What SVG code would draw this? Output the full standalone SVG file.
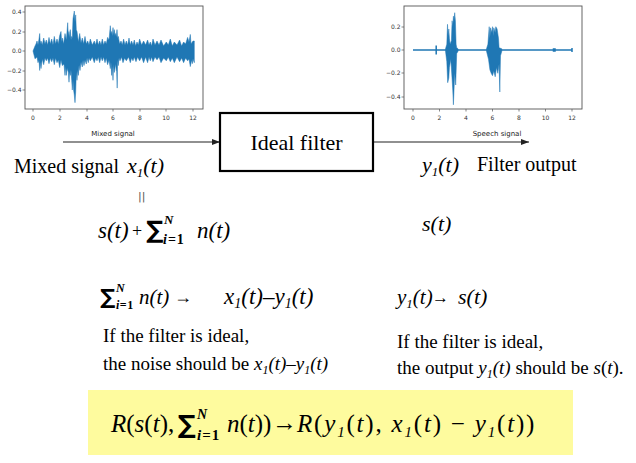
<svg xmlns="http://www.w3.org/2000/svg" width="636" height="463" viewBox="0 0 636 463">
<style>
.ser{font-family:"Liberation Serif","Times New Roman",serif;fill:#000}
.it{font-style:italic}
.b{font-weight:bold}
.sum{font-family:"DejaVu Sans","Liberation Sans",sans-serif;font-weight:bold;fill:#000}
.tick{font-family:"DejaVu Sans","Liberation Sans",sans-serif;font-size:6px;fill:#333}
.cap{font-family:"DejaVu Sans","Liberation Sans",sans-serif;font-size:7px;fill:#222;text-anchor:middle}
.frame{fill:none;stroke:#555;stroke-width:0.9}
.tk{stroke:#555;stroke-width:0.7}
.sig{fill:#1f77b4;stroke:#1f77b4;stroke-width:0.5;stroke-linejoin:round}
.sigl{fill:none;stroke:#1f77b4;stroke-width:1.5}
.conn{stroke:#222;stroke-width:1.2;fill:none}
</style>
<defs>
<marker id="ah" viewBox="0 0 8 6" refX="8" refY="3" markerWidth="8" markerHeight="6" markerUnits="userSpaceOnUse" orient="auto">
<path d="M0,0 L8,3 L0,6 z" fill="#222"/>
</marker>
</defs>
<rect width="636" height="463" fill="#fff"/>

<g id="plot-mixed">
<rect class="frame" x="25" y="6" width="178" height="103"/>
<path class="tk" d="M22.5,12H25M22.5,32H25M22.5,51H25M22.5,71H25M22.5,90H25M33,109V111.5M60,109V111.5M87,109V111.5M113,109V111.5M140,109V111.5M166,109V111.5M193,109V111.5"/>
<g class="tick" text-anchor="end">
<text x="21.5" y="14">0.4</text><text x="21.5" y="34">0.2</text><text x="21.5" y="53">0.0</text><text x="21.5" y="73">−0.2</text><text x="21.5" y="92">−0.4</text>
</g>
<g class="tick" text-anchor="middle">
<text x="33" y="119.5">0</text><text x="60" y="119.5">2</text><text x="87" y="119.5">4</text><text x="113" y="119.5">6</text><text x="140" y="119.5">8</text><text x="166" y="119.5">10</text><text x="193" y="119.5">12</text>
</g>
<polygon class="sig" points="33,51 35,46 36,44 37,41 38,45 39,39 39.7,33.5 40.3,44 41,41 42.3,45 43.7,38 45,44 46.3,40 47.6,45 49,37.4 50.3,44 51.7,39 53,45 54.3,36.4 55.6,44 57,39 58.3,44 59.7,35.4 61,31.5 61.6,42 62.3,38 63.6,44 65,33.5 66.4,40 67.7,22.7 68.3,36 69,31.5 69.6,38 70.3,29.6 71,40 71.7,36.4 72.3,38 73,18.8 74.3,11 75,22 75.7,14.9 76.3,30 77,31.5 78.4,42 79.7,33.5 81,43 82.3,38 83.6,44 85,36.4 86.3,44 87.7,41 89,45 90.3,39 92.3,45 94.3,41 95.6,45 97,39 98.3,45 99.7,41 101,45 102.3,39 103.6,45 105,41 106.3,44 107.6,37.4 109,40 110.3,25.7 111,34 111.6,31.5 112.3,36 113,27.6 113.6,35 114.3,29.6 115,36 115.6,33.5 116.3,37 117,29.6 117.6,38 118.3,36.4 119.6,44 121,41 122.3,45 123.6,39 125,45 126.3,41 127.6,45 129,38 130.3,45 131.6,41 133,45 134.3,40 135.6,46 137,42 138.3,45 139.6,39 141.6,45 143.6,41 145.6,45 147.6,40 149,45 150.3,42 151.6,46 153,39 155,45 157,41 159,45 161,40 163.6,46 166.3,42 168.3,45 170.3,39 172.3,46 174.3,42 177,45 179.6,40 181.6,46 183.6,42 185.6,44 187.6,37.4 189,42 190.3,34.4 191,44 191.6,43 193,41 194.3,41 194.3,62.7 193,58.8 192.3,63.7 191.6,60 190.3,66.6 189,59 187.6,60.8 185.6,58 183.6,62.7 181.6,58 179.6,61.7 177,57 174.3,62.7 172.3,58 170.3,61.7 168.3,57 166.3,60.8 163.6,58 161,62.7 159,57 157,59.8 155,57 153,61.7 151.6,57 150.3,60.8 149,57 147.6,62.7 145.6,57 143.6,62.7 141.6,57 139.6,60.8 137.6,57 136,61.7 134.3,57 133,60.8 131.6,58 130.3,62.7 128.6,57 126.3,60.8 124.6,58 123,62.7 121.5,57 120,60.8 119,58 118.3,65.6 117.6,60 117.2,88.1 116.6,70 116.3,70.5 115.6,64 114.3,72.5 113.6,64 113,80.3 112.3,66 111.6,75.4 111,62 110.3,68.6 109,60 107.6,64.7 106.3,58 105,62.7 103.6,57 102.3,60.8 101,57 99.7,62.7 98.3,57 97,60.8 95.6,58 94.3,62.7 92.3,57 90.3,60.8 89,58 88.3,62.7 87,58 86.3,64 85,60 84,65.6 83,60 82.3,67 81,62 80,70.5 79,65 78.4,75.4 77.6,70 77,80.3 76.3,72 75.7,92 75,102.7 74.3,95 73.6,90 73,80 72.3,90 71.7,80.3 71,70 70.3,75.4 69.6,72 69,82.2 68.3,72 67.7,70.5 67,68 66.3,75.4 65.6,66 65,75.4 64,64 62.3,65.6 61,60 59.7,67.6 58.3,60 57,62.7 55.6,58 54.3,64.7 53,58 51.7,61.7 50.3,58 49,63.7 47.6,58 46.3,60.8 45,58 43.7,64.7 42.3,59 41,68.6 40,62 39.7,70.5 39,60 38,62.7 37,57 35,58.8"/>
<text class="cap" x="113" y="136">Mixed signal</text>
</g>

<g id="plot-speech">
<rect class="frame" x="404" y="6" width="178" height="103"/>
<path class="tk" d="M401.5,27H404M401.5,50H404M401.5,73H404M401.5,97H404M413,109V111.5M439.5,109V111.5M466,109V111.5M492.5,109V111.5M519,109V111.5M545.5,109V111.5M572,109V111.5"/>
<g class="tick" text-anchor="end">
<text x="400.5" y="29">0.2</text><text x="400.5" y="52">0.0</text><text x="400.5" y="75">−0.2</text><text x="400.5" y="99">−0.4</text>
</g>
<g class="tick" text-anchor="middle">
<text x="413" y="119.5">0</text><text x="439.5" y="119.5">2</text><text x="466" y="119.5">4</text><text x="492.5" y="119.5">6</text><text x="519" y="119.5">8</text><text x="545.5" y="119.5">10</text><text x="572" y="119.5">12</text>
</g>
<path class="sigl" d="M413,50H572M436.2,45.5V54.5M553.5,48.3V51.7M555,48.3V51.7M572,48V52"/>
<polygon class="sig" points="445.5,48.8 446.8,44.2 447.5,24.3 448.1,36 448.8,29 449.4,38.3 450.1,44.2 451.4,40.7 452.1,20.8 452.8,26.7 453.4,16.2 454.1,19.7 454.7,12.7 455.4,20.8 456.1,44.2 456.7,47.7 458.1,48.8 458.1,51.2 456.7,53.5 455.7,85 454.7,73.3 453.4,104.8 452.8,90.8 452.1,79.2 450.8,59.3 449.4,67.5 448.8,78 447.7,82.7 446.8,61.7 445.5,51.2"/>
<polygon class="sig" points="486.5,48.8 487.9,44.2 489.2,26.7 489.9,38.3 490.5,27.8 491.8,32.5 492.5,26.7 493.2,36 493.8,27.8 495.2,32.5 495.8,26.7 497.1,29 498.5,38.3 499.1,47.7 501.8,48.8 501.8,51.2 500.5,55.8 499.8,92 499.1,64 497.8,73.3 496.5,67.5 495.2,76.8 493.8,71 492.5,75.7 491.2,73.3 489.9,69.8 488.5,59.3 486.5,51.2"/>
<text class="cap" x="497" y="136">Speech signal</text>
</g>

<g id="connectors">
<line class="conn" x1="63" y1="142" x2="220" y2="142" marker-end="url(#ah)"/>
<line class="conn" x1="373" y1="142" x2="529" y2="142" marker-end="url(#ah)"/>
</g>

<g id="node-filter">
<rect x="220" y="113" width="153" height="58" fill="#fff" stroke="#000" stroke-width="2.2"/>
<text class="ser" x="296.5" y="150" font-size="22" text-anchor="middle">Ideal filter</text>
</g>

<g id="input-label">
<text class="ser" x="14" y="173" font-size="20">Mixed signal</text>
<text class="ser it" x="127" y="173" font-size="22">x<tspan font-size="13" dy="4">1</tspan><tspan dy="-4">(t)</tspan></text>
<text x="138" y="200" font-family="DejaVu Sans,sans-serif" font-size="11" fill="#555">||</text>
<text class="ser it" x="98" y="238" font-size="23">s(t)</text>
<text class="ser" x="132" y="237" font-size="18">+</text>
<text class="sum" x="146" y="238" font-size="24">∑</text>
<text class="ser b it" x="164" y="224" font-size="13">N</text>
<text class="ser b" x="163" y="244" font-size="14" letter-spacing="1"><tspan class="it">i</tspan>=1</text>
<text class="ser it" x="197" y="238" font-size="23">n(t)</text>
</g>

<g id="output-label">
<text class="ser it" x="422" y="172" font-size="22">y<tspan font-size="13" dy="4">1</tspan><tspan dy="-4">(t)</tspan></text>
<text class="ser" x="477" y="171" font-size="20">Filter output</text>
<text class="ser it" x="422" y="231" font-size="22">s(t)</text>
</g>

<g id="noise-note">
<text class="sum" x="100" y="304" font-size="21">∑</text>
<text class="ser b it" x="116" y="292" font-size="12">N</text>
<text class="ser b" x="116" y="309" font-size="12" letter-spacing="0.5"><tspan class="it">i</tspan>=1</text>
<text class="ser it" x="139" y="304" font-size="21">n(t)</text>
<text class="ser" x="174" y="303" font-size="18">→</text>
<text class="ser it" x="224" y="304" font-size="23">x<tspan font-size="14" dy="4">1</tspan><tspan dy="-4">(t)–y</tspan><tspan font-size="14" dy="4">1</tspan><tspan dy="-4">(t)</tspan></text>
<text class="ser" x="103" y="342" font-size="19">If the filter is ideal,</text>
<text class="ser" x="103" y="370" font-size="19">the noise should be <tspan class="it">x<tspan font-size="12" dy="4">1</tspan><tspan dy="-4">(t)–y</tspan><tspan font-size="12" dy="4">1</tspan><tspan dy="-4">(t)</tspan></tspan></text>
</g>

<g id="output-note">
<text class="ser it" x="397" y="304" font-size="21">y<tspan font-size="13" dy="4">1</tspan><tspan dy="-4">(t)</tspan></text>
<text class="ser" x="432" y="303" font-size="17">→</text>
<text class="ser it" x="458" y="304" font-size="22">s(t)</text>
<text class="ser" x="397" y="348" font-size="19">If the filter is ideal,</text>
<text class="ser" x="397" y="374" font-size="19">the output <tspan class="it">y<tspan font-size="12" dy="4">1</tspan><tspan dy="-4">(t)</tspan></tspan> should be <tspan class="it">s</tspan>(<tspan class="it">t</tspan>).</text>
</g>

<g id="formula-box">
<rect x="88" y="390" width="485" height="65" fill="#fefb9e"/>
<text class="ser" x="111" y="432" font-size="25"><tspan class="it">R</tspan>(<tspan class="it">s</tspan>(<tspan class="it">t</tspan>),</text>
<text class="sum" x="178" y="433" font-size="25">∑</text>
<text class="ser b it" x="197" y="419" font-size="14">N</text>
<text class="ser b" x="197" y="440" font-size="15" letter-spacing="1"><tspan class="it">i</tspan>=1</text>
<text class="ser" x="227" y="432" font-size="25"><tspan class="it">n</tspan>(<tspan class="it">t</tspan>))</text>
<text class="ser" x="272" y="431" font-size="25">→</text>
<text class="ser" x="297" y="432" font-size="25" letter-spacing="1.8"><tspan class="it">R</tspan>(<tspan class="it">y</tspan><tspan font-size="15" dy="5" class="it">1</tspan><tspan dy="-5">(</tspan><tspan class="it">t</tspan>), <tspan class="it">x</tspan><tspan font-size="15" dy="5" class="it">1</tspan><tspan dy="-5">(</tspan><tspan class="it">t</tspan>) − <tspan class="it">y</tspan><tspan font-size="15" dy="5" class="it">1</tspan><tspan dy="-5">(</tspan><tspan class="it">t</tspan>))</text>
</g>
</svg>
